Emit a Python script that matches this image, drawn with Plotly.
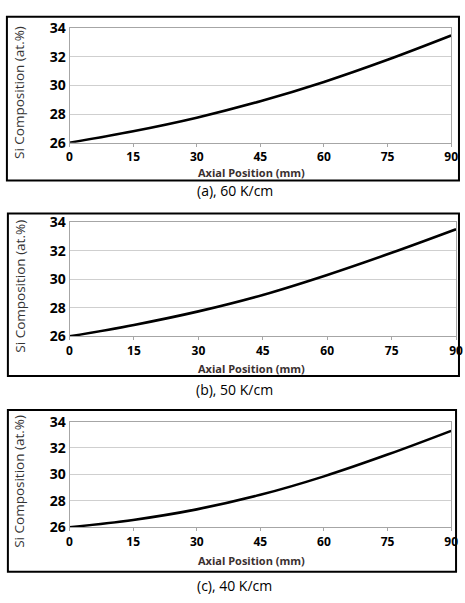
import plotly.graph_objects as go

W, H = 465, 603

axial_mm = [0, 15, 30, 45, 60, 75, 90]
si_60 = [26.0, 26.8, 27.75, 28.9, 30.25, 31.8, 33.5]
si_50 = [26.0, 26.8, 27.75, 28.9, 30.3, 31.85, 33.5]
si_40 = [26.0, 26.55, 27.35, 28.45, 29.85, 31.5, 33.3]

x_ticks = [0, 15, 30, 45, 60, 75, 90]
y_ticks = [26, 28, 30, 32, 34]
captions = ["(a), 60 K/cm", "(b), 50 K/cm", "(c), 40 K/cm"]
series = [si_60, si_50, si_40]

# layout in pixels
plots = [(68, 458, 19, 137), (68, 463, 219, 337), (68, 458, 425, 534)]
boxes = [(4, 466, 7, 176), (5, 466, 210, 378), (5, 463, 413, 580)]
xtitle_y = [168, 370, 568]
caption_y = [186, 392, 594]

def px(v):
    return v / W

def py(v):
    return 1 - v / H

fig = go.Figure()
shapes = []
annotations = []
for i, (ys, cap) in enumerate(zip(series, captions)):
    n = "" if i == 0 else str(i + 1)
    fig.add_trace(go.Scatter(x=axial_mm, y=ys, mode="lines", line=dict(color="black", width=2.6, shape="spline"),
                             xaxis="x" + n, yaxis="y" + n, showlegend=False, cliponaxis=False))
    x0, x1, y0, y1 = plots[i]
    fig.update_layout(**{
        "xaxis" + n: dict(domain=[px(x0), px(x1)], range=[0, 90], tickvals=x_ticks, showgrid=False,
                          anchor="y" + n, showline=True, linecolor="#a6a6a6", linewidth=1, mirror=True,
                          ticks="outside", ticklen=3, tickcolor="#a6a6a6", zeroline=False,
                          tickfont=dict(family="Open Sans", size=12, color="black", weight="bold")),
        "yaxis" + n: dict(domain=[py(y1), py(y0)], range=[26, 34], tickvals=y_ticks, showgrid=True,
                          gridcolor="#cfcfcf", gridwidth=1, anchor="x" + n, showline=True,
                          linecolor="#a6a6a6", linewidth=1, mirror=True, zeroline=False, ticks="",
                          tickfont=dict(family="Open Sans", size=14, color="black", weight="bold")),
    })
    bx0, bx1, by0, by1 = boxes[i]
    shapes.append(dict(type="rect", xref="paper", yref="paper", x0=px(bx0), x1=px(bx1), y0=py(by1), y1=py(by0),
                       line=dict(color="black", width=2)))
    annotations.append(dict(text="Axial Position (mm)", xref="paper", yref="paper", x=px(254), y=py(xtitle_y[i]),
                            showarrow=False, xanchor="center", yanchor="middle", borderpad=0,
                            font=dict(family="Open Sans", size=11, color="#3a3030", weight="bold")))
    annotations.append(dict(text="Si Composition (at.%)", xref="paper", yref="paper", x=px(17),
                            y=py((y0 + y1) / 2 + 7), showarrow=False, textangle=-90,
                            xanchor="center", yanchor="middle",
                            font=dict(family="Open Sans", size=13.5, color="#333333")))
    annotations.append(dict(text=cap, xref="paper", yref="paper", x=px(237), y=py(caption_y[i]),
                            showarrow=False, xanchor="center", yanchor="middle",
                            font=dict(family="Open Sans", size=14, color="black")))

fig.update_layout(width=W, height=H, margin=dict(l=0, r=0, t=0, b=0), paper_bgcolor="white",
                  plot_bgcolor="white", shapes=shapes, annotations=annotations)
fig.write_html("out.html", config={"displayModeBar": False},
               post_script="document.body.style.margin='0';document.body.style.overflow='hidden';")
